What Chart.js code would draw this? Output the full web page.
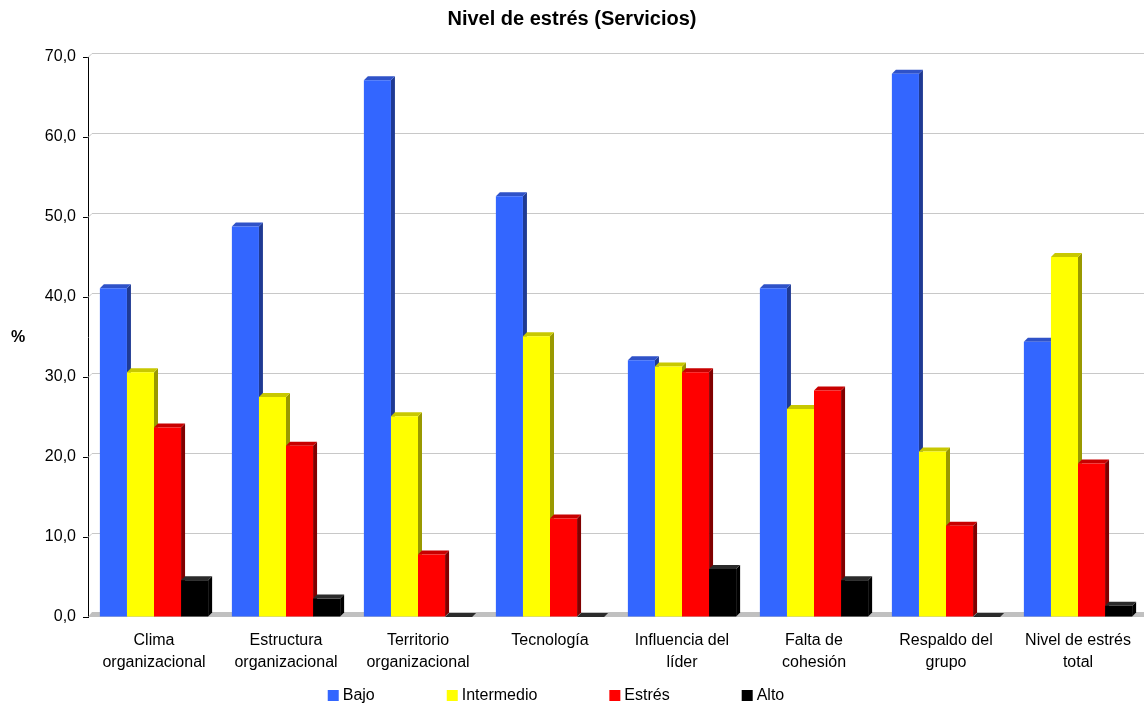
<!DOCTYPE html>
<html>
<head>
<meta charset="utf-8">
<script src="https://cdn.jsdelivr.net/npm/chart.js@4.4.1/dist/chart.umd.min.js"></script>
<style>
html, body { margin: 0; padding: 0; background: #fff; }
#wrap { width: 1144px; height: 709px; }
</style>
</head>
<body>
<div id="wrap"><canvas id="grafico" width="1144" height="709"></canvas></div>
<script>
// Datos (porcentajes)
const categorias = [
    ['Clima', 'organizacional'],
    ['Estructura', 'organizacional'],
    ['Territorio', 'organizacional'],
    ['Tecnología'],
    ['Influencia del', 'líder'],
    ['Falta de', 'cohesión'],
    ['Respaldo del', 'grupo'],
    ['Nivel de estrés', 'total']
];
const bajo       = [41.1, 48.8, 67.1, 52.6, 32.1, 41.1, 67.9, 34.4];
const intermedio = [30.6, 27.5, 25.1, 35.1, 31.3, 26.0, 20.7, 45.0];
const estres     = [23.7, 21.4, 7.8, 12.3, 30.6, 28.3, 11.4, 19.2];
const alto       = [4.6, 2.3, 0, 0, 6.0, 4.6, 0, 1.4];
const ticksY     = [0, 10, 20, 30, 40, 50, 60, 70];

const fuente = "'Liberation Sans', Arial, sans-serif";
const profundidad = 4;
const colorFrente = ['#3366ff', '#ffff00', '#ff0000', '#000000'];
const colorLado   = ['#1f3a93', '#999900', '#800000', '#000000'];
const colorTapa   = ['#2f52c8', '#c8c800', '#c80000', '#2b2b2b'];

// Efecto 3D: pared del fondo, piso, caras laterales y tapas de las barras
const efecto3D = {
    id: 'efecto3D',
    beforeDatasetsDraw(chart) {
        const { ctx, chartArea: a, scales: { y } } = chart;
        const d = profundidad;
        ctx.save();

        // líneas de división en el fondo
        ctx.strokeStyle = '#c8c8c8';
        ctx.lineWidth = 1;
        y.ticks.forEach(t => {
            if (t.value === 0) return;
            const py = Math.round(y.getPixelForValue(t.value)) + 0.5;
            ctx.beginPath();
            ctx.moveTo(a.left, py);
            ctx.lineTo(a.left + d, py - d);
            ctx.lineTo(a.right, py - d);
            ctx.stroke();
        });

        // piso gris
        const y0 = y.getPixelForValue(0);
        ctx.fillStyle = '#c0c0c0';
        ctx.beginPath();
        ctx.moveTo(a.left, y0);
        ctx.lineTo(a.left + d, y0 - d - 1);
        ctx.lineTo(a.right, y0 - d - 1);
        ctx.lineTo(a.right, y0);
        ctx.closePath();
        ctx.fill();

        // lados y tapas
        chart.data.datasets.forEach((ds, i) => {
            chart.getDatasetMeta(i).data.forEach(bar => {
                const l = bar.x - bar.width / 2;
                const r = bar.x + bar.width / 2;
                const t = bar.y;
                const b = bar.base;
                ctx.fillStyle = colorLado[i];
                ctx.beginPath();
                ctx.moveTo(r, b);
                ctx.lineTo(r, t);
                ctx.lineTo(r + d, t - d);
                ctx.lineTo(r + d, b - d);
                ctx.closePath();
                ctx.fill();
                ctx.fillStyle = colorTapa[i];
                ctx.beginPath();
                ctx.moveTo(l, t);
                ctx.lineTo(l + d, t - d);
                ctx.lineTo(r + d, t - d);
                ctx.lineTo(r, t);
                ctx.closePath();
                ctx.fill();
            });
        });
        ctx.restore();
    },
    afterDraw(chart) {
        const { ctx, chartArea: a } = chart;
        ctx.save();
        // título del eje Y
        ctx.fillStyle = '#000';
        ctx.font = 'bold 16px ' + fuente;
        ctx.textAlign = 'center';
        ctx.textBaseline = 'middle';
        ctx.fillText('%', 18, (a.top + a.bottom) / 2 + 1);

        // leyenda
        ctx.font = '16px ' + fuente;
        ctx.textAlign = 'left';
        const caja = 11, sep = 4, hueco = 72;
        const items = chart.data.datasets.map((ds, i) => ({
            texto: ds.label,
            color: colorFrente[i],
            ancho: caja + sep + ctx.measureText(ds.label).width
        }));
        const total = items.reduce((s, it) => s + it.ancho, 0) + hueco * (items.length - 1);
        let x = 556 - total / 2;
        const yl = 695;
        items.forEach(it => {
            ctx.fillStyle = it.color;
            ctx.fillRect(x, yl - 5, caja, caja);
            ctx.fillStyle = '#000';
            ctx.fillText(it.texto, x + caja + sep, yl + 1);
            x += it.ancho + hueco;
        });
        ctx.restore();
    }
};

const ctx = document.getElementById('grafico').getContext('2d');
new Chart(ctx, {
    type: 'bar',
    data: {
        labels: categorias,
        datasets: [
            { label: 'Bajo', data: bajo, backgroundColor: colorFrente[0] },
            { label: 'Intermedio', data: intermedio, backgroundColor: colorFrente[1] },
            { label: 'Estrés', data: estres, backgroundColor: colorFrente[2] },
            { label: 'Alto', data: alto, backgroundColor: colorFrente[3] }
        ]
    },
    options: {
        responsive: false,
        animation: false,
        layout: { padding: { left: 0, right: 0, top: 0, bottom: 20 } },
        datasets: {
            bar: { categoryPercentage: 0.82, barPercentage: 1.0, borderWidth: 0 }
        },
        plugins: {
            legend: { display: false },
            tooltip: { enabled: false },
            title: {
                display: true,
                text: 'Nivel de estrés (Servicios)',
                color: '#000',
                font: { family: fuente, size: 20, weight: 'bold' },
                padding: { top: 7, bottom: 26 }
            }
        },
        scales: {
            x: {
                grid: { display: false, drawTicks: false },
                border: { display: false },
                ticks: {
                    color: '#000',
                    font: { family: fuente, size: 16, lineHeight: 1.375 },
                    maxRotation: 0,
                    autoSkip: false,
                    padding: 13
                },
                afterFit(scale) { scale.height = 72; }
            },
            y: {
                min: 0,
                max: 70,
                grid: { drawOnChartArea: false, drawTicks: true, tickLength: 5, color: '#000' },
                border: { display: true, color: '#000', width: 1 },
                ticks: {
                    color: '#000',
                    font: { family: fuente, size: 16 },
                    padding: 7,
                    callback: v => v.toFixed(1).replace('.', ',')
                },
                afterBuildTicks(scale) { scale.ticks = ticksY.map(v => ({ value: v })); },
                afterFit(scale) { scale.width = 88; }
            }
        }
    },
    plugins: [efecto3D]
});
</script>
</body>
</html>
